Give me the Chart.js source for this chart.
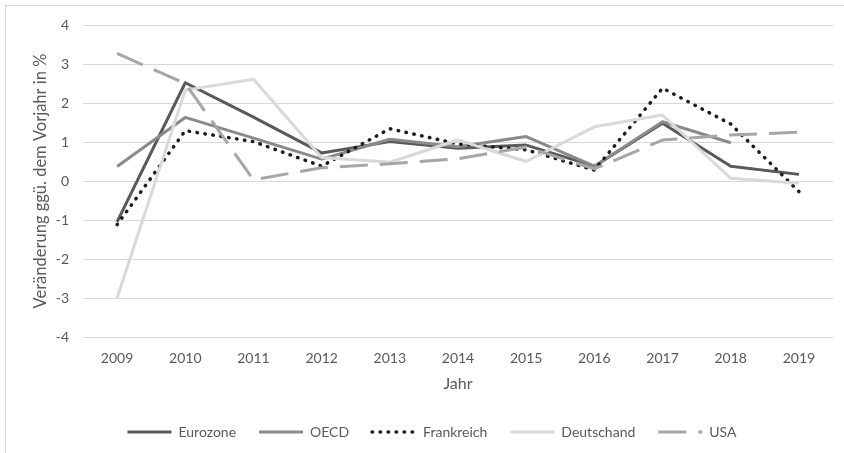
<!DOCTYPE html>
<html lang="de">
<head>
<meta charset="utf-8">
<title>Veränderung ggü. Vorjahr</title>
<script src="https://cdn.jsdelivr.net/npm/chart.js@4.4.1/dist/chart.umd.min.js"></script>
<style>
  html, body { margin: 0; padding: 0; background: #fff; }
  #wrap { position: relative; width: 844px; height: 453px; overflow: hidden; }
  #frame {
    position: absolute; left: 5px; top: 5px;
    width: 860px; height: 470px;
    border: 1px solid #d9d9d9;
  }
  #chart { position: absolute; left: 0; top: 0; }
</style>
</head>
<body>
<div id="wrap">
  <div id="frame"></div>
  <canvas id="chart" width="844" height="453"></canvas>
</div>

<script>
/* ============================
   DATA
============================ */

const years = ["2009", "2010", "2011", "2012", "2013", "2014", "2015", "2016", "2017", "2018", "2019"];

const eurozone   = [-1.05, 2.52, 1.64, 0.72, 1.01, 0.84, 0.92, 0.38, 1.48, 0.38, 0.17];
const oecd       = [0.37, 1.63, 1.10, 0.56, 1.07, 0.88, 1.14, 0.38, 1.52, 0.98, null];
const frankreich = [-1.12, 1.29, 1.01, 0.38, 1.34, 0.95, 0.80, 0.28, 2.38, 1.46, -0.27];
const deutschand = [-3.0, 2.33, 2.61, 0.60, 0.48, 1.05, 0.50, 1.39, 1.69, 0.07, -0.06];
const usa        = [3.27, 2.50, 0.03, 0.34, 0.44, 0.57, 0.87, 0.31, 1.05, 1.18, 1.25];

const yTicks = [-4, -3, -2, -1, 0, 1, 2, 3, 4];

/* ============================
   CHART
============================ */

const FONT = "Lato, 'Open Sans', sans-serif";
const TEXT = "#595959";
const GRID = "#d9d9d9";

function lineSet(label, data, color, extra){
  return Object.assign({
    label: label,
    data: data,
    borderColor: color,
    backgroundColor: color,
    borderWidth: 3,
    borderJoinStyle: "round",
    pointRadius: 0,
    pointHoverRadius: 0,
    tension: 0,
    fill: false,
    spanGaps: false
  }, extra || {});
}

// legend samples: take dash / cap / width from the dataset itself
function legendLabels(chart){
  const items = Chart.defaults.plugins.legend.labels.generateLabels(chart);
  items.forEach(item => {
    const ds = chart.data.datasets[item.datasetIndex];
    item.lineDash = ds.borderDash || [];
    item.lineCap = ds.borderCapStyle || "butt";
    item.lineWidth = ds.borderWidth;
    item.strokeStyle = ds.borderColor;
    item.pointStyle = "line";
  });
  return items.sort((a, b) => a.datasetIndex - b.datasetIndex);
}

function renderChart(){
  const canvas = document.getElementById("chart");
  if(!canvas) return;

  new Chart(canvas, {
    type: "line",
    data: {
      labels: years,
      datasets: [
        lineSet("Eurozone", eurozone, "#595959", { order: 5 }),
        lineSet("OECD", oecd, "#8a8a8a", { order: 4 }),
        lineSet("Frankreich", frankreich, "#1c1c1c", {
          order: 3,
          borderWidth: 3.5,
          borderCapStyle: "round",
          borderDash: [0.5, 7.5]
        }),
        lineSet("Deutschand", deutschand, "#d9d9d9", { order: 2 }),
        lineSet("USA", usa, "#a6a6a6", { order: 1, borderDash: [28, 12] })
      ]
    },
    options: {
      responsive: false,
      animation: false,
      devicePixelRatio: 1,
      layout: {
        padding: { top: 25, right: 11, bottom: 4, left: 31 }
      },
      scales: {
        x: {
          offset: true,
          grid: { display: false, drawTicks: false },
          border: { display: false },
          ticks: {
            color: TEXT,
            padding: 13,
            maxRotation: 0,
            font: { family: FONT, size: 14 }
          },
          title: {
            display: true,
            text: "Jahr",
            color: TEXT,
            padding: { top: 0, bottom: 9 },
            font: { family: FONT, size: 16 }
          },
          afterFit: function(scale){ scale.height = 65; }
        },
        y: {
          min: -4,
          max: 4,
          afterBuildTicks: function(scale){
            scale.ticks = yTicks.map(v => ({ value: v }));
          },
          grid: { color: GRID, lineWidth: 1, drawTicks: false },
          border: { display: false },
          ticks: {
            color: TEXT,
            padding: 14,
            font: { family: FONT, size: 14 }
          },
          title: {
            display: true,
            text: "Veränderung ggü. dem Vorjahr in %",
            color: TEXT,
            padding: { top: 0, bottom: 0 },
            font: { family: FONT, size: 16.5 }
          },
          afterFit: function(scale){ scale.width = 52; }
        }
      },
      plugins: {
        legend: {
          position: "bottom",
          labels: {
            color: TEXT,
            font: { family: FONT, size: 14 },
            usePointStyle: true,
            pointStyle: "line",
            pointStyleWidth: 44,
            boxHeight: 14,
            padding: 23,
            generateLabels: legendLabels
          }
        },
        tooltip: { enabled: false }
      }
    }
  });
}

renderChart();
</script>
</body>
</html>
